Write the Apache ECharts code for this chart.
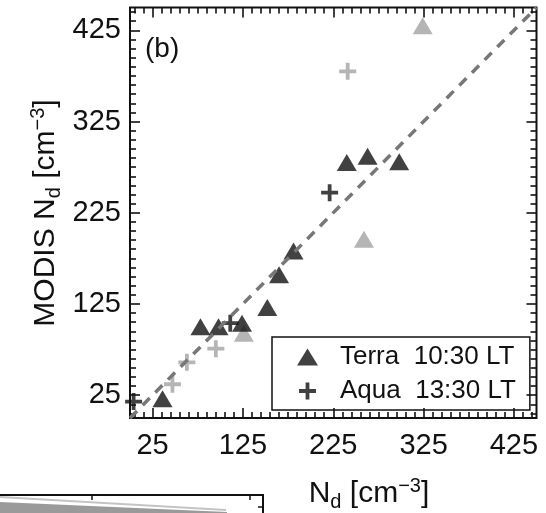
<!DOCTYPE html>
<html>
<head>
<meta charset="utf-8">
<script src="https://cdn.jsdelivr.net/npm/echarts@6/dist/echarts.min.js"></script>
<style>
  html, body { margin: 0; padding: 0; background: #fff; }
  #chart { width: 546px; height: 513px; }
</style>
</head>
<body>
<div id="chart"></div>
<script>
// Droplet number concentration: in-situ N_d (x) vs MODIS retrieved N_d (y)
var terraBlack = [[36, 21], [78, 100], [98, 100], [124, 104], [152, 121], [165, 157], [181, 183], [240, 280], [263, 287], [298, 281]];
var aquaBlack  = [[4, 18], [111, 104], [221, 247]];
var terraGray  = [[126, 93], [259, 196], [324, 430]];
var aquaGray   = [[47, 37], [63, 61], [95, 76], [241, 380]];
var oneToOne   = [[0, 0], [450, 450]];

var axisMin = 0, axisMax = 450;
var majorTicks = [25, 125, 225, 325, 425];
var minorTicks = [];
for (var v = 5; v < axisMax; v += 10) {
  if (majorTicks.indexOf(v) < 0) minorTicks.push(v);
}

var legendNames = ['Terra  10:30 LT', 'Aqua  13:30 LT'];

var FONT = 'Liberation Sans, Arial, Helvetica, sans-serif';
var plusPath = 'path://M7,0h4v7h7v4h-7v7h-4v-7h-7v-4h7z';
var black = '#111';
var gray = '#a3a3a3';

// axis that only carries the numeric labels
function labelAxis(pos, margin) {
  return {
    type: 'value', position: pos, min: axisMin, max: axisMax,
    axisLine: { show: false, onZero: false }, splitLine: { show: false },
    axisTick: { show: false },
    axisLabel: { show: true, customValues: majorTicks, fontSize: 29, fontFamily: FONT,
                 color: '#111', margin: margin }
  };
}

// axis that only carries tick marks, pointing into the plot
function tickAxis(pos, ticks, len) {
  return {
    type: 'value', position: pos, min: axisMin, max: axisMax,
    axisLine: { show: false, onZero: false }, splitLine: { show: false },
    axisTick: { show: true, inside: true, length: len, customValues: ticks,
                lineStyle: { color: '#111', width: 1.6 } },
    axisLabel: { show: false, customValues: ticks }
  };
}

var chart = echarts.init(document.getElementById('chart'), null, { renderer: 'canvas' });

var richTitle = {
  m: { fontSize: 30, fontFamily: FONT, lineHeight: 36, fill: '#111' },
  s: { fontSize: 20, fontFamily: FONT, lineHeight: 20, verticalAlign: 'bottom', fill: '#111' },
  p: { fontSize: 20, fontFamily: FONT, lineHeight: 20, verticalAlign: 'top', fill: '#111' }
};

chart.setOption({
  animation: false,
  backgroundColor: '#fff',
  grid: { left: 130, top: 7.5, right: 9.5, bottom: 95, show: true,
          borderColor: '#111', borderWidth: 2, backgroundColor: 'transparent' },
  xAxis: [
    labelAxis('bottom', 13),
    tickAxis('bottom', majorTicks, 10),
    tickAxis('bottom', minorTicks, 6),
    tickAxis('top', majorTicks, 10),
    tickAxis('top', minorTicks, 6)
  ],
  yAxis: [
    labelAxis('left', 9),
    tickAxis('left', majorTicks, 10),
    tickAxis('left', minorTicks, 6),
    tickAxis('right', majorTicks, 10),
    tickAxis('right', minorTicks, 6)
  ],
  legend: {
    data: legendNames,
    orient: 'vertical',
    left: 272, top: 337,
    padding: [6, 14, 5, 25],
    itemGap: 6,
    itemWidth: 21, itemHeight: 17,
    borderColor: '#111', borderWidth: 1.5,
    backgroundColor: 'transparent',
    textStyle: { fontSize: 26, fontFamily: FONT, color: '#111', lineHeight: 28,
                 padding: [0, 0, 0, 17] }
  },
  series: [
    {
      name: 'one-to-one', type: 'line', data: oneToOne, z: 5,
      showSymbol: false, symbol: 'none',
      lineStyle: { color: '#777', width: 3.5, type: [10, 8] }
    },
    {
      name: 'Terra gray', type: 'scatter', data: terraGray, z: 3,
      symbol: 'triangle', symbolSize: [20, 17],
      itemStyle: { color: gray }
    },
    {
      name: 'Aqua gray', type: 'scatter', data: aquaGray, z: 3,
      symbol: plusPath, symbolSize: 17,
      itemStyle: { color: gray }
    },
    {
      name: legendNames[0], type: 'scatter', data: terraBlack, z: 4,
      symbol: 'triangle', symbolSize: [20, 17],
      itemStyle: { color: black }
    },
    {
      name: legendNames[1], type: 'scatter', data: aquaBlack, z: 4,
      symbol: plusPath, symbolSize: 17,
      itemStyle: { color: black }
    }
  ],
  graphic: [
    {
      type: 'text', left: 145, top: 35,
      style: { text: '(b)', font: '28px ' + FONT, fill: '#111' }
    },
    {
      type: 'text', x: 46, y: 213, rotation: Math.PI / 2,
      style: {
        text: '{m|MODIS N}{s|d}{m| [cm}{p|\u22123}{m|]}',
        align: 'center', verticalAlign: 'middle',
        textAlign: 'center', textVerticalAlign: 'middle',
        fill: '#111', rich: richTitle
      }
    },
    {
      type: 'text', x: 369, y: 494,
      style: {
        text: '{m|N}{s|d}{m| [cm}{p|\u22123}{m|]}',
        align: 'center', verticalAlign: 'middle',
        textAlign: 'center', textVerticalAlign: 'middle',
        fill: '#111', rich: richTitle
      }
    },
    // top edge of the neighbouring panel below
    {
      type: 'polygon', silent: true,
      shape: { points: [[0, 502], [227, 512], [227, 513], [0, 513]] },
      style: { fill: '#9a9a9a' }
    },
    {
      type: 'line', silent: true,
      shape: { x1: 0, y1: 497, x2: 226, y2: 510 },
      style: { stroke: '#c4c4c4', lineWidth: 2 }
    },
    {
      type: 'polyline', silent: true,
      shape: { points: [[0, 495], [263, 495], [263, 513]] },
      style: { stroke: '#111', lineWidth: 2, fill: null }
    },
    {
      type: 'line', silent: true,
      shape: { x1: 92, y1: 495, x2: 92, y2: 500 },
      style: { stroke: '#111', lineWidth: 1.5 }
    },
    {
      type: 'line', silent: true,
      shape: { x1: 250, y1: 495, x2: 250, y2: 500 },
      style: { stroke: '#111', lineWidth: 1.5 }
    },
    {
      type: 'line', silent: true,
      shape: { x1: 258, y1: 507, x2: 263, y2: 507 },
      style: { stroke: '#111', lineWidth: 1.5 }
    }
  ]
});
</script>
</body>
</html>
